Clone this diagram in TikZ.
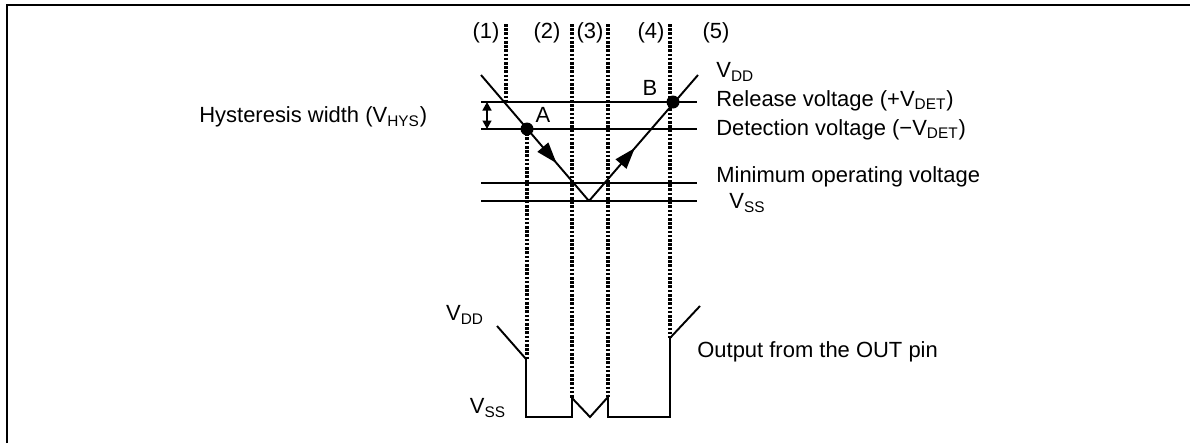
\documentclass[tikz,border=0pt]{standalone}
\usepackage{fontspec}
\setmainfont{Liberation Sans}
\usetikzlibrary{arrows.meta, decorations.markings}

\begin{document}
\begin{tikzpicture}[
    x=0.02cm, y=-0.02cm,
    font=\fontsize{12.5}{15}\selectfont,
    level/.style={line width=1.1pt},
    wave/.style={line width=1.1pt, line join=miter},
    guide/.style={line width=1.8pt, dash pattern=on 1.5pt off 0.9pt},
    lbl/.style={anchor=west, inner sep=0pt},
    num/.style={inner sep=0pt},
    pt/.style={circle, fill, inner sep=0pt, minimum size=0.26cm},
    midarrow/.style={postaction={decorate}, decoration={markings,
        mark=at position #1 with {\arrow{Triangle[length=0.42cm, width=0.28cm]}}}}
]
\useasboundingbox (0,0) rectangle (1190,443);
% frame (top and left edge only)
\draw[line width=1.7pt] (7,443) -- (7,5) -- (1190,5);

% voltage levels
\draw[level] (481,102) coordinate (relL) -- (697,102) coordinate (relR);
\draw[level] (481,129) coordinate (detL) -- (697,129) coordinate (detR);
\draw[level] (481,183) coordinate (minL) -- (697,183) coordinate (minR);
\draw[level] (481,201) coordinate (vssL) -- (697,201) coordinate (vssR);

% supply voltage falling and rising
\coordinate (vtop) at (481,75);
\coordinate (vbot) at (589,201);
\coordinate (vend) at (698,75);
\draw[wave, midarrow=0.70] (vtop) -- (vbot);
\draw[wave, midarrow=0.42] (vbot) -- (vend);

\node[pt] (A) at (527,129) {};
\node[pt] (B) at (673,102) {};
\node at (543,115) {A};
\node at (650,88) {B};

% hysteresis width
\draw[{Triangle[length=0.17cm, width=0.18cm]}-{Triangle[length=0.17cm, width=0.18cm]}, line width=0.8pt]
    (487,102) -- (487,129);
\node[lbl] (hys) at (199,117) {Hysteresis width (V\textsubscript{HYS})};

% phase boundaries
\draw[guide] (506,24) -- (506,102);
\draw[guide] (A.center) -- (527,359);
\draw[guide] (572,24) -- (572,398);
\draw[guide] (608,24) -- (608,397);
\draw[guide] (670,24) -- (670,338);

\node[num] (p1) at (486,33) {(1)};
\node[num] (p2) at (547,33) {(2)};
\node[num] (p3) at (590,33) {(3)};
\node[num] (p4) at (651,33) {(4)};
\node[num] (p5) at (716,33) {(5)};

% level labels
\node[lbl] (vdd) at (716,72) {V\textsubscript{DD}};
\node[lbl] (rel) at (716,101) {Release voltage (+V\textsubscript{DET})};
\node[lbl] (det) at (716,130) {Detection voltage (\char"2212 V\textsubscript{DET})};
\node[lbl] (min) at (716,177) {Minimum operating voltage};
\node[lbl] (vss) at (729,203) {V\textsubscript{SS}};

% output of the OUT pin
\draw[wave] (497,326) -- (526,359) -- (526,417) -- (572,417) -- (572,398)
    -- (590,417) -- (608,397) -- (608,417) -- (670,417) -- (670,338) -- (700,306);
\node (ovdd) at (465,315) {V\textsubscript{DD}};
\node (ovss) at (488,408) {V\textsubscript{SS}};
\node[lbl] (out) at (697,352) {Output from the OUT pin};
\end{tikzpicture}
\end{document}
